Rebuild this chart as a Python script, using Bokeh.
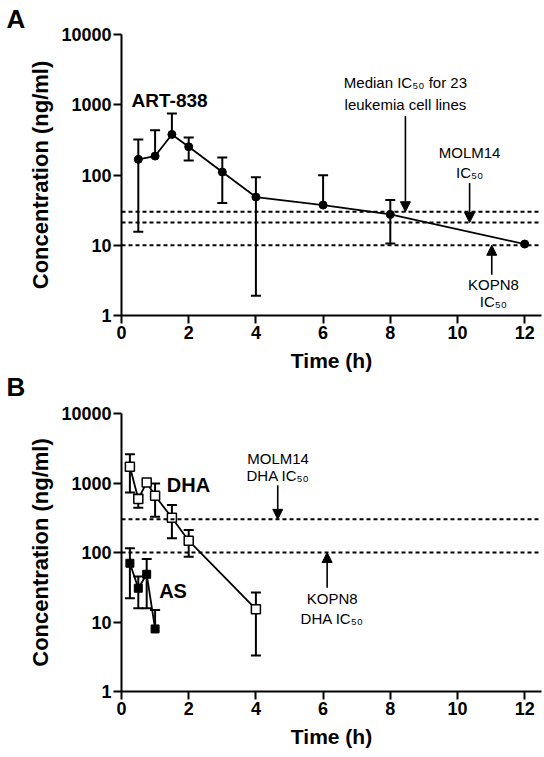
from bokeh.plotting import figure
from bokeh.models import (Range1d, FixedTicker, Span, Label, Arrow, NormalHead,
                          Whisker, TeeHead, ColumnDataSource, Title)
from bokeh.layouts import column
from bokeh.embed import file_html
from bokeh.resources import INLINE

FONT = "Liberation Sans"

# ---------------- data ----------------
x_ticks = [0, 2, 4, 6, 8, 10, 12]
y_ticks = [1, 10, 100, 1000, 10000]
y_tick_labels = ["1", "10", "100", "1000", "10000"]

# Panel A: ART-838
t_art = [0.5, 1, 1.5, 2, 3, 4, 6, 8, 12]
art_mean = [167, 186, 378, 252, 110, 48.5, 37.3, 27.5, 10.4]
art_upper = [321, 435, 752, 343, 178, 93, 99, 44, None]
art_lower = [15.6, None, None, 161, 40, 1.91, None, 10.6, None]
ic50_A = [30, 21, 10]          # median 23 lines, MOLM14, KOPN8
arrowA_x = [8.45, 10.36, 11.02]
arrowA_from = [690, 77, 3.8]

# Panel B: DHA and AS
t_dha = [0.25, 0.5, 0.75, 1, 1.5, 2, 4]
dha_mean = [1710, 587, 1020, 655, 316, 148, 15.3]
dha_upper = [2600, 686, None, 987, 481, 210, 26.5]
dha_lower = [733, 440, None, 327, 160, 87, 3.29]

t_as = [0.25, 0.5, 0.75, 1]
as_mean = [70, 30.6, 48.6, 7.95]
as_upper = [115, 45, 80.7, 14.9]
as_lower = [22, 15.8, 15.8, None]
ic50_B = [300, 100]            # MOLM14 DHA, KOPN8 DHA
arrowB_x = [4.65, 6.12]
arrowB_from = [930, 31]


def base_fig(height, border_top, border_bottom):
    p = figure(width=543, height=height, y_axis_type="log",
               x_range=Range1d(0, 12.5), y_range=Range1d(1, 10000),
               output_backend="svg", toolbar_location=None,
               min_border_left=121, min_border_right=2,
               min_border_top=border_top, min_border_bottom=border_bottom)
    p.outline_line_color = None
    p.xgrid.grid_line_color = None
    p.ygrid.grid_line_color = None
    p.background_fill_color = "white"
    p.border_fill_color = "white"
    for ax in (p.xaxis[0], p.yaxis[0]):
        ax.axis_line_width = 2
        ax.axis_line_color = "black"
        ax.major_tick_line_width = 2
        ax.major_tick_line_color = "black"
        ax.major_tick_out = 8
        ax.major_tick_in = 0
        ax.minor_tick_line_color = None
        ax.major_label_text_font = FONT
        ax.major_label_text_font_style = "bold"
        ax.major_label_text_font_size = "18px"
        ax.major_label_text_color = "black"
        ax.axis_label_text_font = FONT
        ax.axis_label_text_font_style = "bold"
        ax.axis_label_text_color = "black"
        ax.major_label_standoff = 2
    p.xaxis.ticker = FixedTicker(ticks=x_ticks)
    p.yaxis.ticker = FixedTicker(ticks=y_ticks)
    p.yaxis.major_label_overrides = {v: s for v, s in zip(y_ticks, y_tick_labels)}
    p.xaxis.axis_label = "Time (h)"
    p.yaxis.axis_label = "Concentration (ng/ml)"
    p.xaxis.axis_label_text_font_size = "21px"
    p.yaxis.axis_label_text_font_size = "22px"
    p.xaxis.axis_label_standoff = 7
    p.yaxis.axis_label_standoff = 5
    return p


def add_errors(p, t, mean, upper, lower):
    ux = [a for a, u in zip(t, upper) if u is not None]
    um = [m for m, u in zip(mean, upper) if u is not None]
    uu = [u for u in upper if u is not None]
    lx = [a for a, l in zip(t, lower) if l is not None]
    lm = [m for m, l in zip(mean, lower) if l is not None]
    ll = [l for l in lower if l is not None]
    su = ColumnDataSource(dict(x=ux, lo=um, hi=uu))
    sl = ColumnDataSource(dict(x=lx, lo=ll, hi=lm))
    p.add_layout(Whisker(base="x", lower="lo", upper="hi", source=su,
                         dimension="height", line_width=2, line_color="black",
                         upper_head=TeeHead(size=10, line_width=2, line_color="black"),
                         lower_head=None))
    p.add_layout(Whisker(base="x", lower="lo", upper="hi", source=sl,
                         dimension="height", line_width=2, line_color="black",
                         lower_head=TeeHead(size=10, line_width=2, line_color="black"),
                         upper_head=None))


def txt(p, x, y, s, size="15px", bold=False, align="center"):
    p.add_layout(Label(x=x, y=y, text=s, text_font=FONT, text_font_size=size,
                       text_font_style="bold" if bold else "normal",
                       text_align=align, text_baseline="middle",
                       text_color="black"))


def arrow(p, x, y0, y1):
    p.add_layout(Arrow(x_start=x, y_start=y0, x_end=x, y_end=y1,
                       line_width=1.6, line_color="black",
                       end=NormalHead(size=10, line_color="black",
                                      fill_color="black", line_width=1)))


def letter(s, standoff):
    return Title(text=s, align="left", offset=-115, standoff=standoff,
                 text_font=FONT, text_font_size="26px",
                 text_font_style="bold", text_color="black")


# ---------------- Panel A ----------------
pA = base_fig(401, 34, 86)
pA.add_layout(letter("A", 2), "above")
pA.add_layout(letter("B", -9), "below")
for v in ic50_A:
    pA.add_layout(Span(location=v, dimension="width", line_color="black",
                       line_width=2, line_dash="4 3"))
add_errors(pA, t_art, art_mean, art_upper, art_lower)
pA.line(t_art, art_mean, line_width=1.8, line_color="black")
pA.scatter(t_art, art_mean, size=8, marker="circle", fill_color="black",
           line_color="black")
for xa, ya, yv in zip(arrowA_x, arrowA_from, ic50_A):
    arrow(pA, xa, ya, yv)

txt(pA, 0.3, 1140, "ART-838", size="19px", bold=True, align="left")
txt(pA, 8.45, 2090, "Median IC₅₀ for 23")
txt(pA, 8.45, 1020, "leukemia cell lines")
txt(pA, 10.36, 212, "MOLM14")
txt(pA, 10.36, 108, "IC₅₀")
txt(pA, 11.07, 2.8, "KOPN8")
txt(pA, 11.07, 1.6, "IC₅₀")

# ---------------- Panel B ----------------
pB = base_fig(356, 12, 66)
for v in ic50_B:
    pB.add_layout(Span(location=v, dimension="width", line_color="black",
                       line_width=2, line_dash="4 3"))
add_errors(pB, t_dha, dha_mean, dha_upper, dha_lower)
add_errors(pB, t_as, as_mean, as_upper, as_lower)
pB.line(t_dha, dha_mean, line_width=1.8, line_color="black")
pB.line(t_as, as_mean, line_width=1.8, line_color="black")
pB.scatter(t_dha, dha_mean, size=9, marker="square", fill_color="white",
           line_color="black", line_width=1.5)
pB.scatter(t_as, as_mean, size=8, marker="square", fill_color="black",
           line_color="black")
for xa, ya, yv in zip(arrowB_x, arrowB_from, ic50_B):
    arrow(pB, xa, ya, yv)

txt(pB, 1.35, 933, "DHA", size="20px", bold=True, align="left")
txt(pB, 1.12, 28.3, "AS", size="20px", bold=True, align="left")
txt(pB, 4.66, 2280, "MOLM14")
txt(pB, 4.66, 1290, "DHA IC₅₀")
txt(pB, 6.27, 21.5, "KOPN8")
txt(pB, 6.27, 11.4, "DHA IC₅₀")

layout = column(pA, pB, spacing=0)
open("out.html", "w").write(file_html(layout, INLINE))
